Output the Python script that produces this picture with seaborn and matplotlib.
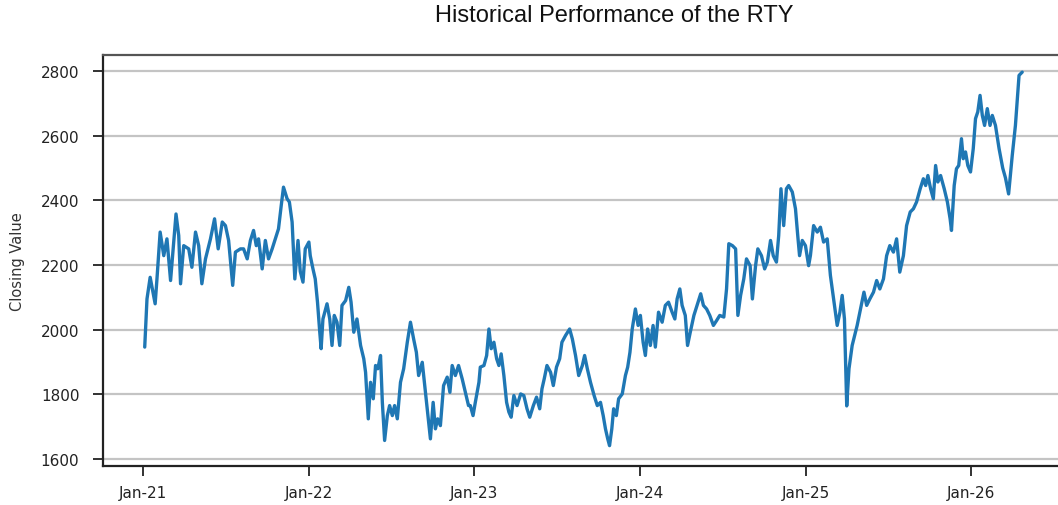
import numpy as np
import pandas as pd
import matplotlib
matplotlib.use("Agg")
import matplotlib.pyplot as plt
import matplotlib.dates as mdates
import seaborn as sns

start_date = "2021-01-01"
days_since_start = [
    3, 8, 15, 26, 30, 37, 45, 52, 60, 67, 72, 78, 82, 89, 100, 107, 115, 122, 129, 137,
    148, 157, 165, 174, 181, 188, 197, 203, 214, 221, 229, 236, 243, 249, 254, 262, 269,
    276, 284, 291, 298, 304, 309, 317, 322, 328, 334, 341,
    346, 352, 357, 365, 368, 374, 379, 384, 389, 392, 396, 405, 411, 416, 421, 427, 433,
    438, 446, 453, 458, 464, 471, 479, 486, 490, 496, 501, 507, 512, 517, 523, 527, 532,
    538, 543, 549, 554, 560, 567, 574, 582, 589, 596, 602, 607, 615, 622, 629, 633, 639,
    644, 649, 655, 662, 670, 676, 681, 688, 695, 703, 710, 717,
    721, 727, 732, 740, 743, 751, 757, 762, 767, 773, 779, 784, 789, 795, 801, 806, 811,
    817, 824, 832, 839, 846, 852, 860, 867, 874, 879, 884, 890, 898, 904, 911, 918, 923,
    931, 940, 946, 953, 960, 968, 973, 979, 986, 994, 1001, 1008, 1014, 1019, 1024, 1028,
    1033, 1037, 1043, 1048, 1056, 1063, 1068, 1073, 1078, 1085, 1091,
    1096, 1102, 1107, 1112, 1118, 1124, 1129, 1136, 1144, 1151, 1158, 1166, 1172, 1177,
    1183, 1188, 1195, 1200, 1206, 1214, 1221, 1229, 1235, 1242, 1249, 1257, 1264, 1271,
    1280, 1286, 1291, 1299, 1306, 1311, 1317, 1324, 1330, 1338, 1343, 1350, 1355, 1363,
    1370, 1376, 1383, 1389, 1396, 1401, 1406, 1412, 1418, 1423, 1431, 1438, 1443, 1447,
    1453, 1460, 1467,
    1471, 1478, 1486, 1493, 1500, 1508, 1515, 1522, 1530, 1536, 1541, 1546, 1551, 1556,
    1563, 1574, 1583, 1589, 1595, 1602, 1610, 1617, 1624, 1632, 1639, 1646, 1654, 1661,
    1668, 1676, 1683, 1691, 1698, 1705, 1713, 1720, 1725, 1730, 1736, 1742, 1747, 1752,
    1758, 1766, 1773, 1779, 1782, 1788, 1793, 1798, 1804, 1808, 1813, 1818, 1824, 1830,
    1835, 1840, 1845, 1850, 1855, 1861, 1867, 1872, 1879, 1887, 1895, 1901, 1908, 1916,
    1923, 1931, 1938,
]
closing_values = [
    1946, 2095, 2162, 2080, 2157, 2302, 2229, 2281, 2152, 2271, 2358, 2291, 2142, 2260,
    2250, 2193, 2302, 2260, 2142, 2219, 2281, 2343, 2250, 2333, 2322, 2276, 2137, 2240,
    2250, 2250, 2219, 2276, 2307, 2260, 2281, 2188, 2276, 2219, 2250, 2281, 2312, 2384,
    2441, 2405, 2395, 2333, 2157, 2276,
    2180, 2147, 2250, 2271, 2229, 2188, 2157, 2085, 1992, 1941, 2033, 2080, 2033, 1951,
    2044, 2023, 1951, 2075, 2090, 2131, 2085, 1992, 2033, 1951, 1910, 1868, 1724, 1837,
    1786, 1889, 1879, 1920, 1775, 1657, 1734, 1765, 1734, 1765, 1724, 1837, 1879, 1961,
    2023, 1971, 1930, 1858, 1899, 1806, 1714, 1662, 1775, 1693, 1724, 1703, 1827, 1853,
    1806, 1889, 1858, 1889, 1848, 1806, 1765,
    1765, 1734, 1775, 1837, 1884, 1889, 1920, 2002, 1941, 1961, 1910, 1889, 1925, 1858,
    1775, 1745, 1729, 1796, 1765, 1801, 1796, 1755, 1729, 1765, 1791, 1755, 1817, 1848,
    1889, 1868, 1827, 1884, 1910, 1961, 1982, 2002, 1971, 1920, 1858, 1889, 1920, 1879,
    1837, 1796, 1765, 1775, 1734, 1693, 1662, 1641, 1693, 1755, 1734, 1786, 1801, 1858,
    1884, 1930, 2002, 2064, 2013,
    2044, 1961, 1920, 2002, 1951, 2013, 1946, 2054, 2023, 2075, 2085, 2054, 2033, 2095,
    2126, 2075, 2044, 1951, 1992, 2044, 2075, 2111, 2075, 2064, 2044, 2013, 2028, 2044,
    2039, 2126, 2266, 2260, 2250, 2044, 2106, 2157, 2219, 2198, 2095, 2198, 2250, 2229,
    2188, 2209, 2276, 2229, 2209, 2291, 2436, 2322, 2436, 2446, 2426, 2374, 2291, 2229,
    2276, 2260, 2198,
    2230, 2322, 2302, 2317, 2271, 2281, 2168, 2095, 2013, 2054, 2106, 2033, 1764, 1879,
    1951, 2013, 2075, 2116, 2075, 2095, 2116, 2152, 2126, 2157, 2229, 2260, 2240, 2281,
    2178, 2229, 2322, 2364, 2374, 2395, 2436, 2467, 2446, 2477, 2436, 2405, 2508, 2457,
    2477, 2436, 2395, 2343, 2307, 2446, 2498, 2508, 2591, 2529, 2550, 2508, 2488, 2560,
    2653, 2674, 2725, 2663, 2632, 2684, 2632, 2663, 2632, 2560, 2500, 2470, 2420, 2539,
    2632, 2787, 2797,
]
y_ticks = [1600, 1800, 2000, 2200, 2400, 2600, 2800]
x_tick_dates = ["2021-01-01", "2022-01-01", "2023-01-01", "2024-01-01", "2025-01-01", "2026-01-01"]
title_text = "Historical Performance of the RTY"
y_label = "Closing Value"

df = pd.DataFrame({
    "Date": pd.Timestamp(start_date) + pd.to_timedelta(days_since_start, unit="D"),
    "Close": closing_values,
})

sns.set_style("white")
plt.rcParams["font.family"] = ["DejaVu Sans"]

fig = plt.figure(figsize=(10.58, 5.06), dpi=100)
ax = fig.add_axes([103 / 1058, 39 / 506, 1014 / 1058, 411 / 506])

sns.lineplot(data=df, x="Date", y="Close", ax=ax, color="#1f77b4", linewidth=2.4)

ax.set_xlim(pd.Timestamp("2020-10-04"), pd.Timestamp("2026-11-18"))
ax.set_ylim(1578, 2850)
ax.set_yticks(y_ticks)
ax.set_xticks(pd.to_datetime(x_tick_dates))
ax.xaxis.set_major_formatter(mdates.DateFormatter("%b-%y"))
ax.yaxis.grid(True, color="#c4c4c4", linewidth=1.6)
ax.xaxis.grid(False)
ax.set_xlabel("")
ax.set_ylabel(y_label, fontsize=10.5, color="#333333")
ax.yaxis.set_label_coords(-(103 - 25) / 1014, 0.5)
ax.tick_params(axis="both", which="major", labelsize=11, length=7, width=1.3,
               direction="out", colors="#222222", left=True, bottom=True)
ax.tick_params(axis="y", pad=10)
ax.tick_params(axis="x", pad=7)
for side in ["left", "bottom", "top"]:
    ax.spines[side].set_visible(True)
    ax.spines[side].set_color("#222222")
    ax.spines[side].set_linewidth(1.6)
ax.spines["top"].set_color("#555555")
ax.spines["right"].set_visible(False)

fig.text(614 / 1058, 1 - 16 / 506, title_text, ha="center", va="center",
         fontsize=17, family="Liberation Sans", color="#111111")

fig.savefig("out.png", dpi=100)
